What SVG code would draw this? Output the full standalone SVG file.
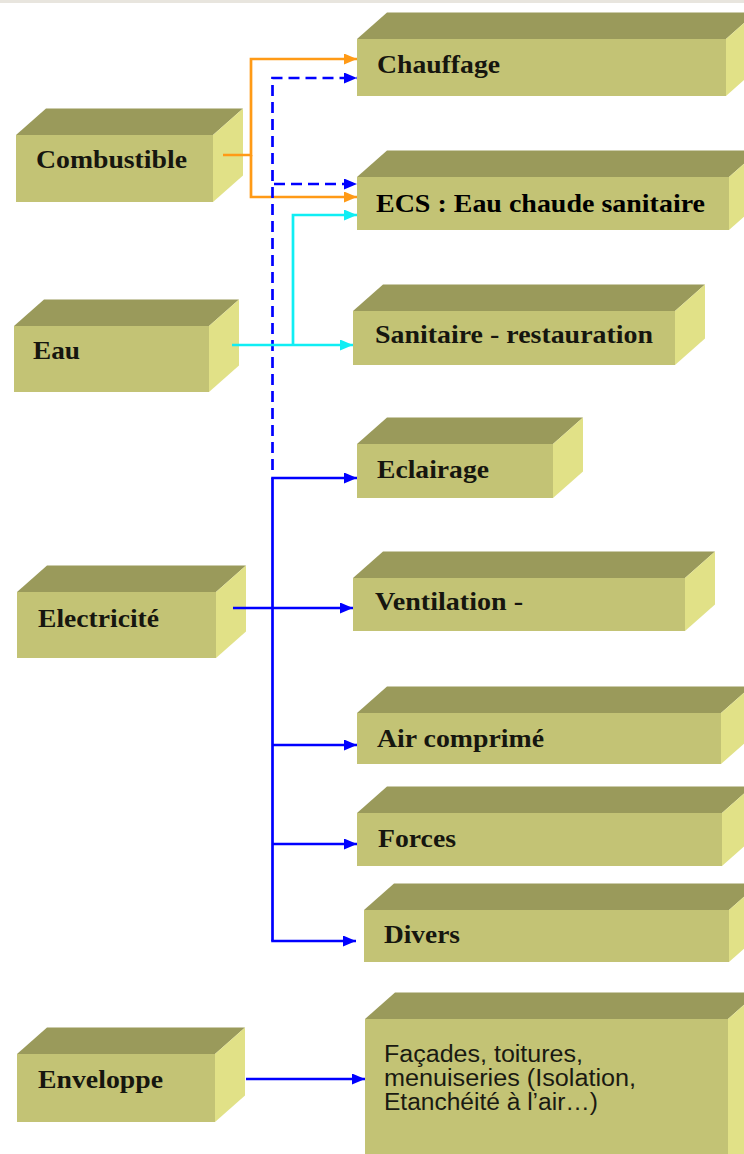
<svg xmlns="http://www.w3.org/2000/svg" width="744" height="1154" viewBox="0 0 744 1154">
  <style>
    .top { fill: #9a9a5b; }
    .front { fill: #c3c375; }
    .side { fill: #e1e187; }
    .lbl { font-family: "Liberation Serif", "Times New Roman", serif; font-weight: bold; font-size: 25px; fill: #16160f; }
    .ecs { fill: #000; }
    .txt { font-family: "Liberation Sans", Arial, sans-serif; font-size: 23.5px; fill: #1a1a12; }
    .c { fill: none; stroke-width: 2.7; }
    .org { stroke: #ff9a16; }
    .blu { stroke: #0000ff; }
    .cya { stroke: #10eef4; }
    .dash { stroke-dasharray: 11 6; }
  </style>
  <defs>
    <marker id="ah-org" markerUnits="userSpaceOnUse" markerWidth="14" markerHeight="12" refX="13" refY="5.5" orient="auto">
      <path d="M0,0 L13,5.5 L0,11 z" fill="#ff9a16"/>
    </marker>
    <marker id="ah-blu" markerUnits="userSpaceOnUse" markerWidth="14" markerHeight="12" refX="13" refY="5.5" orient="auto">
      <path d="M0,0 L13,5.5 L0,11 z" fill="#0000ff"/>
    </marker>
    <marker id="ah-cya" markerUnits="userSpaceOnUse" markerWidth="14" markerHeight="12" refX="13" refY="5.5" orient="auto">
      <path d="M0,0 L13,5.5 L0,11 z" fill="#10eef4"/>
    </marker>
  </defs>

  <rect x="0" y="0" width="744" height="1154" fill="#ffffff"/>
  <rect x="0" y="0" width="744" height="3" fill="#e8e5de"/>

  <!-- source boxes -->
  <g id="combustible">
    <polygon class="top" points="16,135 46,108.5 243,108.5 213,135"/>
    <polygon class="side" points="213,135 243,108.5 243,175.5 213,202"/>
    <rect class="front" x="16" y="135" width="197" height="67"/>
    <text class="lbl" x="36" y="168" textLength="151" lengthAdjust="spacingAndGlyphs">Combustible</text>
  </g>
  <g id="eau">
    <polygon class="top" points="14,326 44,299.5 239,299.5 209,326"/>
    <polygon class="side" points="209,326 239,299.5 239,365.5 209,392"/>
    <rect class="front" x="14" y="326" width="195" height="66"/>
    <text class="lbl" x="33" y="359" textLength="47" lengthAdjust="spacingAndGlyphs">Eau</text>
  </g>
  <g id="electricite">
    <polygon class="top" points="17,592 47,565.5 246,565.5 216,592"/>
    <polygon class="side" points="216,592 246,565.5 246,631.5 216,658"/>
    <rect class="front" x="17" y="592" width="199" height="66"/>
    <text class="lbl" x="38" y="627" textLength="121" lengthAdjust="spacingAndGlyphs">Electricité</text>
  </g>
  <g id="enveloppe">
    <polygon class="top" points="17,1054 47,1027.5 245,1027.5 215,1054"/>
    <polygon class="side" points="215,1054 245,1027.5 245,1095.5 215,1122"/>
    <rect class="front" x="17" y="1054" width="198" height="68"/>
    <text class="lbl" x="38" y="1088" textLength="125" lengthAdjust="spacingAndGlyphs">Enveloppe</text>
  </g>

  <!-- usage boxes -->
  <g id="chauffage">
    <polygon class="top" points="357,39 387,12.5 756,12.5 726,39"/>
    <polygon class="side" points="726,39 756,12.5 756,69.5 726,96"/>
    <rect class="front" x="357" y="39" width="369" height="57"/>
    <text class="lbl" x="377" y="72.5" textLength="123" lengthAdjust="spacingAndGlyphs">Chauffage</text>
  </g>
  <g id="ecs">
    <polygon class="top" points="357,177 387,150.5 759,150.5 729,177"/>
    <polygon class="side" points="729,177 759,150.5 759,203.5 729,230"/>
    <rect class="front" x="357" y="177" width="372" height="53"/>
    <text class="lbl ecs" x="376" y="211.5" textLength="329" lengthAdjust="spacingAndGlyphs">ECS : Eau chaude sanitaire</text>
  </g>
  <g id="sanitaire">
    <polygon class="top" points="353,311 383,284.5 705,284.5 675,311"/>
    <polygon class="side" points="675,311 705,284.5 705,338.5 675,365"/>
    <rect class="front" x="353" y="311" width="322" height="54"/>
    <text class="lbl" x="375" y="343" textLength="278" lengthAdjust="spacingAndGlyphs">Sanitaire - restauration</text>
  </g>
  <g id="eclairage">
    <polygon class="top" points="357,444 387,417.5 583,417.5 553,444"/>
    <polygon class="side" points="553,444 583,417.5 583,471.5 553,498"/>
    <rect class="front" x="357" y="444" width="196" height="54"/>
    <text class="lbl" x="377" y="478" textLength="112" lengthAdjust="spacingAndGlyphs">Eclairage</text>
  </g>
  <g id="ventilation">
    <polygon class="top" points="353,578 383,551.5 715,551.5 685,578"/>
    <polygon class="side" points="685,578 715,551.5 715,604.5 685,631"/>
    <rect class="front" x="353" y="578" width="332" height="53"/>
    <text class="lbl" x="375" y="610" textLength="148" lengthAdjust="spacingAndGlyphs">Ventilation -</text>
  </g>
  <g id="air-comprime">
    <polygon class="top" points="357,713 387,686.5 751,686.5 721,713"/>
    <polygon class="side" points="721,713 751,686.5 751,737.5 721,764"/>
    <rect class="front" x="357" y="713" width="364" height="51"/>
    <text class="lbl" x="377" y="747" textLength="167" lengthAdjust="spacingAndGlyphs">Air comprimé</text>
  </g>
  <g id="forces">
    <polygon class="top" points="357,813 387,786.5 752,786.5 722,813"/>
    <polygon class="side" points="722,813 752,786.5 752,839.5 722,866"/>
    <rect class="front" x="357" y="813" width="365" height="53"/>
    <text class="lbl" x="378" y="847" textLength="78" lengthAdjust="spacingAndGlyphs">Forces</text>
  </g>
  <g id="divers">
    <polygon class="top" points="364,910 394,883.5 759,883.5 729,910"/>
    <polygon class="side" points="729,910 759,883.5 759,935.5 729,962"/>
    <rect class="front" x="364" y="910" width="365" height="52"/>
    <text class="lbl" x="384" y="943" textLength="76" lengthAdjust="spacingAndGlyphs">Divers</text>
  </g>
  <g id="facades">
    <polygon class="top" points="365,1019 395,992.5 758,992.5 728,1019"/>
    <polygon class="side" points="728,1019 758,992.5 758,1160 728,1160"/>
    <rect class="front" x="365" y="1019" width="363" height="141"/>
    <text class="txt" x="384" y="1062" textLength="199" lengthAdjust="spacingAndGlyphs">Façades, toitures,</text>
    <text class="txt" x="384" y="1086" textLength="252" lengthAdjust="spacingAndGlyphs">menuiseries (Isolation,</text>
    <text class="txt" x="384" y="1110" textLength="214" lengthAdjust="spacingAndGlyphs">Etanchéité à l’air…)</text>
  </g>

  <!-- connectors -->
  <g id="connectors">
    <!-- fuel -->
    <path class="c org" d="M223,155 H251 V59 H357" marker-end="url(#ah-org)"/>
    <path class="c org" d="M251,155 V197 H357" marker-end="url(#ah-org)"/>
    <!-- electricity, dashed part -->
    <path class="c blu dash" d="M272.5,470 V78 H357" marker-end="url(#ah-blu)"/>
    <path class="c blu dash" d="M274,184 H357" marker-end="url(#ah-blu)"/>
    <!-- water -->
    <path class="c cya" d="M232,345 H353" marker-end="url(#ah-cya)"/>
    <path class="c cya" d="M293,345 V215 H357" marker-end="url(#ah-cya)"/>
    <!-- electricity, solid part -->
    <path class="c blu" d="M272.5,478 V941" />
    <path class="c blu" d="M271.2,478 H357" marker-end="url(#ah-blu)"/>
    <path class="c blu" d="M233,608 H353" marker-end="url(#ah-blu)"/>
    <path class="c blu" d="M272.5,745 H357" marker-end="url(#ah-blu)"/>
    <path class="c blu" d="M272.5,844 H357" marker-end="url(#ah-blu)"/>
    <path class="c blu" d="M271.2,941 H356" marker-end="url(#ah-blu)"/>
    <!-- envelope -->
    <path class="c blu" d="M246,1079 H365" marker-end="url(#ah-blu)"/>
  </g>
</svg>
